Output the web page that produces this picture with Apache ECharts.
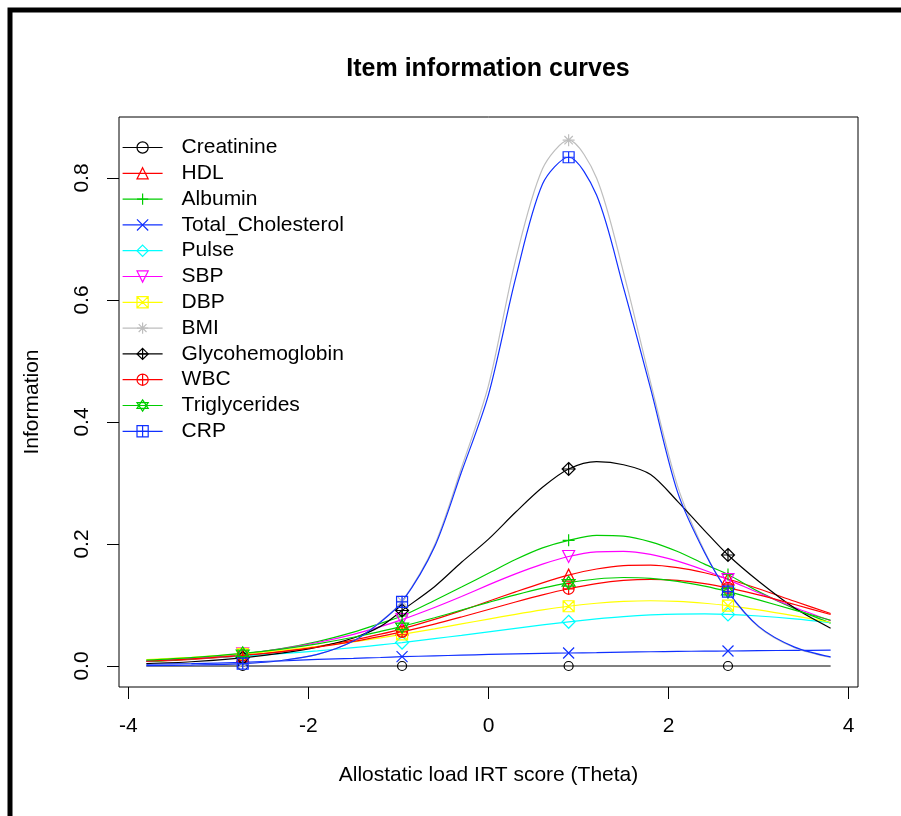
<!DOCTYPE html>
<html>
<head>
<meta charset="utf-8">
<title>Item information curves</title>
<script src="https://cdn.jsdelivr.net/npm/echarts@6/dist/echarts.min.js"></script>
<style>
  html, body { margin: 0; padding: 0; background: #fff; }
  #chart { width: 901px; height: 816px; }
</style>
</head>
<body>
<div id="chart"></div>
<script>
// theta grid; markers sit at indexes 2, 7, 13, 19
var theta = [-3.8, -3.3, -2.73, -2.3, -1.9, -1.5, -1.2, -0.96, -0.6, -0.3, 0, 0.3, 0.6, 0.89, 1.2, 1.5, 1.8, 2.1, 2.4, 2.66, 3.0, 3.4, 3.8];
var markerIdx = [2, 7, 13, 19];

var xTicks = [-4, -2, 0, 2, 4];
var yTicks = [0, 0.2, 0.4, 0.6, 0.8];

var itemNames = ['Creatinine', 'HDL', 'Albumin', 'Total_Cholesterol', 'Pulse', 'SBP', 'DBP', 'BMI', 'Glycohemoglobin', 'WBC', 'Triglycerides', 'CRP'];

var creatinine = [0, 0, 0, 0, 0, 0, 0, 0, 0, 0, 0, 0, 0, 0, 0, 0, 0, 0, 0, 0, 0, 0, 0];
var hdl = [0.0074, 0.0109, 0.0171, 0.0237, 0.0319, 0.0425, 0.0522, 0.061, 0.0765, 0.0909, 0.1061, 0.1216, 0.1364, 0.149, 0.159, 0.1646, 0.1654, 0.1613, 0.1529, 0.1427, 0.1267, 0.1061, 0.086];
var albumin = [0.0074, 0.0118, 0.0196, 0.0285, 0.040, 0.0555, 0.070, 0.082, 0.1075, 0.1295, 0.152, 0.1745, 0.1936, 0.206, 0.2143, 0.213, 0.2036, 0.1877, 0.167, 0.150, 0.122, 0.094, 0.0703];
var totalChol = [0.003, 0.004, 0.006, 0.0085, 0.011, 0.0125, 0.014, 0.0153, 0.0167, 0.0178, 0.019, 0.020, 0.0207, 0.0213, 0.022, 0.0228, 0.0234, 0.024, 0.0244, 0.0246, 0.0252, 0.0256, 0.026];
var pulse = [0.0091, 0.0120, 0.0163, 0.0203, 0.0249, 0.0302, 0.0346, 0.0385, 0.0448, 0.0503, 0.0561, 0.0618, 0.0674, 0.0725, 0.0772, 0.081, 0.0837, 0.0852, 0.0854, 0.0846, 0.082, 0.0772, 0.0709];
var sbp = [0.0081, 0.0123, 0.0198, 0.028, 0.0385, 0.052, 0.0646, 0.0761, 0.096, 0.114, 0.133, 0.151, 0.167, 0.1795, 0.187, 0.188, 0.183, 0.172, 0.157, 0.1417, 0.120, 0.096, 0.0744];
var dbp = [0.0104, 0.0142, 0.020, 0.0257, 0.0321, 0.0397, 0.0462, 0.0519, 0.061, 0.069, 0.077, 0.0848, 0.092, 0.098, 0.1029, 0.1059, 0.107, 0.1059, 0.1029, 0.099, 0.092, 0.0822, 0.0717];
var bmi = [0.0005, 0.0015, 0.004, 0.009, 0.019, 0.041, 0.073, 0.106, 0.198, 0.325, 0.46, 0.665, 0.815, 0.862, 0.80, 0.645, 0.465, 0.295, 0.188, 0.121, 0.064, 0.030, 0.014];
var glyco = [0.004, 0.007, 0.0135, 0.021, 0.031, 0.046, 0.065, 0.091, 0.13, 0.17, 0.208, 0.252, 0.293, 0.323, 0.335, 0.33, 0.314, 0.27, 0.222, 0.182, 0.139, 0.095, 0.062];
var wbc = [0.0081, 0.0117, 0.0175, 0.0237, 0.031, 0.0403, 0.0486, 0.056, 0.0687, 0.0804, 0.0926, 0.1049, 0.1166, 0.1266, 0.1351, 0.1403, 0.1421, 0.1403, 0.1351, 0.128, 0.1166, 0.1008, 0.0844];
var trig = [0.0095, 0.0137, 0.0206, 0.0278, 0.0364, 0.0471, 0.0567, 0.065, 0.0791, 0.0916, 0.1043, 0.1166, 0.1277, 0.1363, 0.1426, 0.1451, 0.1438, 0.1389, 0.1309, 0.122, 0.1085, 0.0916, 0.075];
var crp = [0.0005, 0.0015, 0.004, 0.009, 0.019, 0.041, 0.072, 0.105, 0.195, 0.318, 0.445, 0.635, 0.79, 0.834, 0.772, 0.62, 0.455, 0.285, 0.186, 0.122, 0.065, 0.031, 0.015];

var itemValues = [creatinine, hdl, albumin, totalChol, pulse, sbp, dbp, bmi, glyco, wbc, trig, crp];

// old R palette, recycled
var colors = ['#000000', '#FF0000', '#00CD00', '#1030FF', '#00FFFF', '#FF00FF', '#FFFF00', '#BEBEBE',
              '#000000', '#FF0000', '#00CD00', '#1030FF'];

// pch 1..12 lookalikes
var symbols = [
    'circle',
    'triangle',
    'path://M0,5L10,5M5,0L5,10',
    'path://M0,0L10,10M10,0L0,10',
    'diamond',
    'path://M0,0L10,0L5,9Z',
    'path://M0,0L10,0L10,10L0,10ZM0,0L10,10M10,0L0,10',
    'path://M0,5L10,5M5,0L5,10M1.5,1.5L8.5,8.5M8.5,1.5L1.5,8.5',
    'path://M5,0L10,5L5,10L0,5ZM0,5L10,5M5,0L5,10',
    'path://M0,5A5,5 0 1 1 10,5A5,5 0 1 1 0,5ZM0,5L10,5M5,0L5,10',
    'path://M5,0L10,7.5L0,7.5ZM5,10L10,2.5L0,2.5Z',
    'path://M0,0L10,0L10,10L0,10ZM0,5L10,5M5,0L5,10'
];
var symbolSizes = [9, 12, 12, 11, 13, 12, 11, 12, 13, 11, 13, 11];

var font = 'Liberation Sans, Arial, sans-serif';

function buildData(values) {
    return theta.map(function (t, i) {
        if (markerIdx.indexOf(i) >= 0) {
            return [t, values[i]];
        }
        return {value: [t, values[i]], symbol: 'none'};
    });
}

var series = itemNames.map(function (name, k) {
    return {
        name: name,
        type: 'line',
        data: buildData(itemValues[k]),
        smooth: 0.3,
        symbol: symbols[k],
        symbolSize: symbolSizes[k],
        showAllSymbol: true,
        lineStyle: {color: colors[k], width: 1.2},
        itemStyle: {color: 'rgba(0,0,0,0)', borderColor: colors[k], borderWidth: 1.2},
        emphasis: {disabled: true},
        silent: true,
        animation: false
    };
});

var chart = echarts.init(document.getElementById('chart'));
var option = {
    backgroundColor: '#fff',
    animation: false,
    title: {
        text: 'Item information curves',
        left: 488,
        top: 57,
        padding: 0,
        textAlign: 'center',
        textStyle: {fontFamily: font, fontSize: 25, fontWeight: 'bold', color: '#000'}
    },
    legend: {
        orient: 'vertical',
        left: 122,
        top: 137,
        padding: 0,
        itemWidth: 40,
        itemHeight: 14,
        itemGap: 4.8,
        selectedMode: false,
        data: itemNames,
        itemStyle: {borderWidth: 1.2},
        lineStyle: {width: 1.2},
        textStyle: {fontFamily: font, fontSize: 21, color: '#000', lineHeight: 21, padding: [0, 0, 0, 14]}
    },
    grid: {
        left: 119,
        right: 43,
        top: 117,
        bottom: 129,
        show: true,
        borderColor: '#000',
        borderWidth: 1,
        backgroundColor: 'rgba(0,0,0,0)'
    },
    xAxis: {
        type: 'value',
        min: -4.104,
        max: 4.104,
        name: 'Allostatic load IRT score (Theta)',
        nameLocation: 'middle',
        nameGap: 78,
        nameTextStyle: {fontFamily: font, fontSize: 21, color: '#000'},
        axisLine: {show: false, onZero: false},
        splitLine: {show: false},
        axisTick: {show: true, inside: false, length: 12, customValues: xTicks, lineStyle: {color: '#000'}},
        axisLabel: {
            customValues: xTicks,
            margin: 29,
            fontFamily: font,
            fontSize: 21,
            color: '#000',
            formatter: function (v) { return String(v); }
        }
    },
    yAxis: {
        type: 'value',
        min: -0.0344,
        max: 0.9,
        name: 'Information',
        nameLocation: 'middle',
        nameGap: 76,
        nameTextStyle: {fontFamily: font, fontSize: 21, color: '#000'},
        axisLine: {show: false, onZero: false},
        splitLine: {show: false},
        axisTick: {show: true, inside: false, length: 12, customValues: yTicks, lineStyle: {color: '#000'}},
        axisLabel: {
            customValues: yTicks,
            rotate: 90,
            margin: 26,
            fontFamily: font,
            fontSize: 21,
            color: '#000',
            formatter: function (v) { return v.toFixed(1); }
        }
    },
    graphic: [
        {
            type: 'rect',
            silent: true,
            shape: {x: 10, y: 10, width: 900, height: 820},
            style: {fill: 'none', stroke: '#000', lineWidth: 5}
        }
    ],
    series: series
};
chart.setOption(option);
</script>
</body>
</html>
